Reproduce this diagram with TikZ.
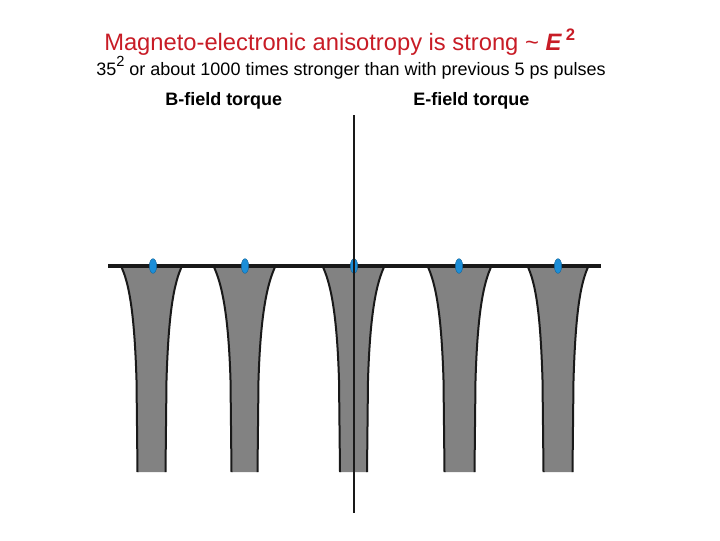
\documentclass[tikz,border=0pt]{standalone}
\usepackage{fontspec}
\setmainfont{Liberation Sans}
\usetikzlibrary{shapes.geometric}
\definecolor{titlered}{RGB}{200,28,38}
\definecolor{funnelgray}{RGB}{130,130,130}
\definecolor{dotblue}{RGB}{28,142,216}
\newcommand{\myfunnel}[3]{%
  % #1 centre x, #2 top half-width, #3 bottom half-width
  \fill[funnelfill] (#1-#2,265) .. controls (#1-#2+9,283) and (#1-#3-3,315) .. (#1-#3-1,380)
    -- (#1-#3,472) -- (#1+#3,472) -- (#1+#3+1,380)
    .. controls (#1+#3+3,315) and (#1+#2-9,283) .. (#1+#2,265) -- cycle;
  \draw[funnelside] (#1-#2,265) .. controls (#1-#2+9,283) and (#1-#3-3,315) .. (#1-#3-1,380)
    -- (#1-#3,472);
  \draw[funnelside] (#1+#2,265) .. controls (#1+#2-9,283) and (#1+#3+3,315) .. (#1+#3+1,380)
    -- (#1+#3,472);}
\begin{document}
\begin{tikzpicture}[x=0.75pt,y=-0.75pt,
  funnelfill/.style={fill=funnelgray},
  funnelside/.style={draw=black!90,line width=1.5pt},
  bluedot/.style={ellipse,fill=dotblue,draw=dotblue!70!black,line width=0.3pt,minimum width=5.5pt,minimum height=11pt,inner sep=0pt},
  axisline/.style={line width=2.2pt,draw=black!90},
  txt/.style={inner sep=0pt,anchor=base west}]
\useasboundingbox (0,0) rectangle (720,540);
\fill[white] (0,0) rectangle (720,540);
\myfunnel{151.5}{31}{14}
\myfunnel{244.5}{31.5}{13}
\myfunnel{353.5}{31.5}{13.5}
\myfunnel{459.5}{32.5}{15}
\myfunnel{558}{31}{14.5}
\coordinate (hl) at (108,266);
\coordinate (hr) at (601,266);
\draw[line width=3.6pt,draw=black!90] (hl) -- (hr);
\node[bluedot] (d1) at (153,266) {};
\node[bluedot] (d2) at (245,266) {};
\node[bluedot] (d3) at (354,266) {};
\node[bluedot] (d4) at (459,266) {};
\node[bluedot] (d5) at (558,266) {};
\coordinate (vt) at (354,115);
\coordinate (vb) at (354,513);
\draw[axisline] (vt) -- (vb);
\node[txt,text=titlered,font=\fontsize{17.8pt}{20pt}\selectfont] (title) at (104,50)
  {Magneto-electronic anisotropy is strong \textasciitilde\ \textbf{\textit{E}}\,\raisebox{0.42em}{\fontsize{12.5pt}{13pt}\selectfont\textbf{2}}};
\node[txt,font=\fontsize{13.5pt}{15pt}\selectfont] (sub) at (96,75.5)
  {35\raisebox{0.5em}{\fontsize{11pt}{12pt}\selectfont 2} or about 1000 times stronger than with previous 5 ps pulses};
\node[txt,font=\bfseries\fontsize{13.5pt}{15pt}\selectfont] (bl) at (165,105) {B-field torque};
\node[txt,font=\bfseries\fontsize{13.5pt}{15pt}\selectfont] (el) at (413,105) {E-field torque};
\end{tikzpicture}
\end{document}
